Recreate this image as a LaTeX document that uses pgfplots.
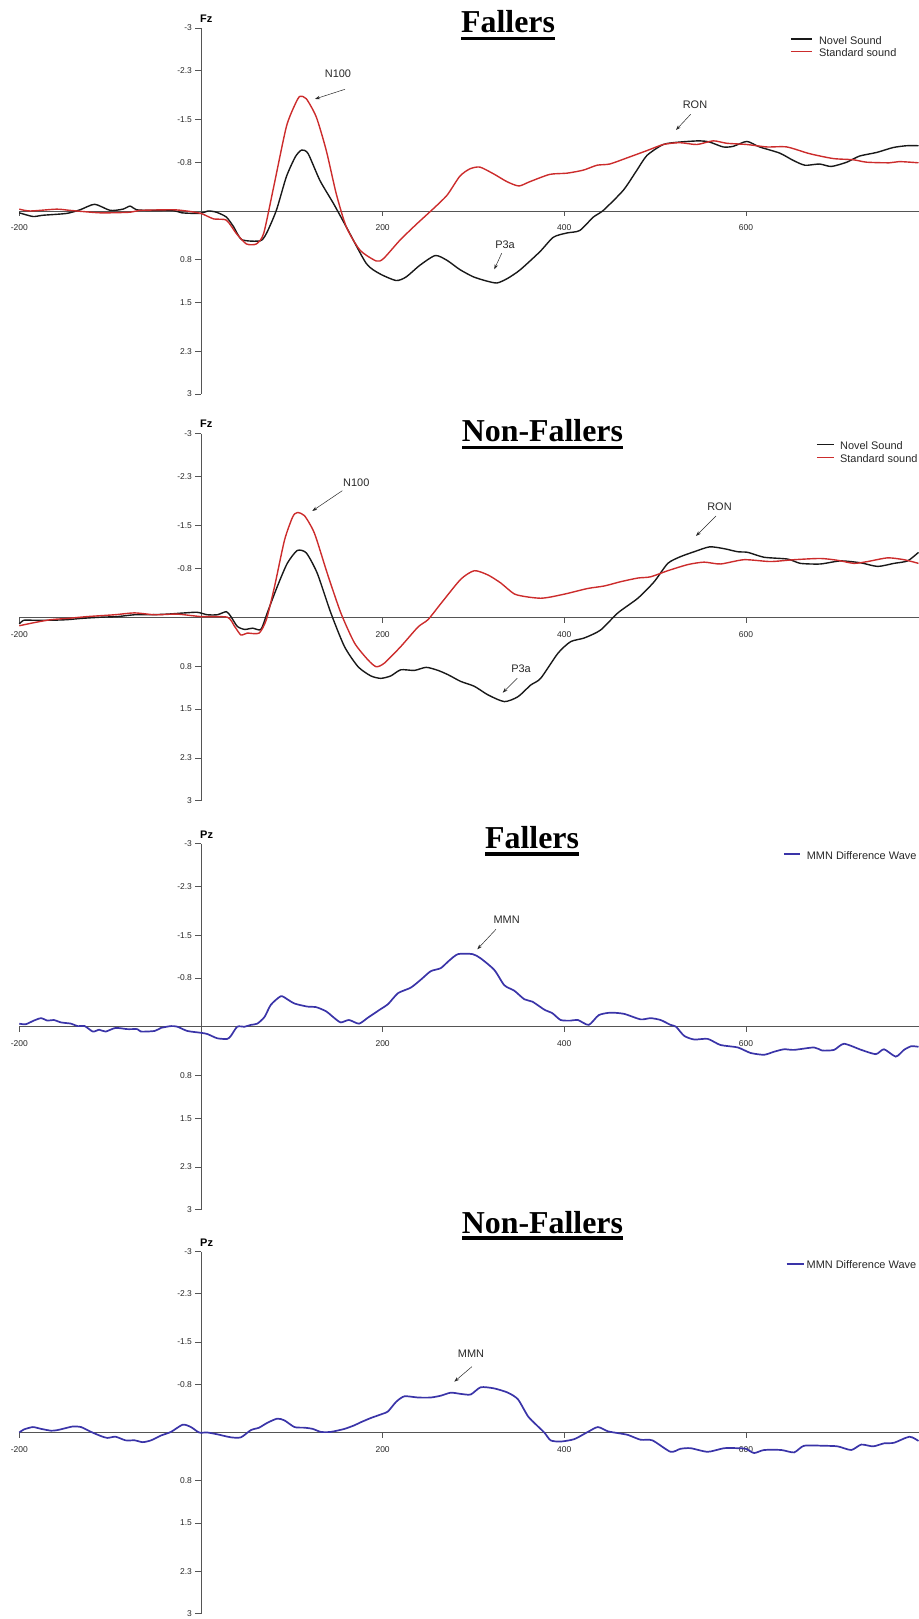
\documentclass[border=0pt]{standalone}
\usepackage{pgfplots}
\pgfplotsset{compat=1.18}
\usepackage{fontspec}
\setmainfont{Liberation Serif}
\newfontfamily\arial{Liberation Sans}
\usetikzlibrary{arrows.meta}

\definecolor{novel}{RGB}{25,25,25}
\definecolor{standard}{RGB}{204,44,44}
\definecolor{mmn}{RGB}{58,52,168}
\definecolor{axisgray}{RGB}{85,85,85}
\definecolor{txtgray}{RGB}{40,40,40}

\pgfplotsset{
  erp/.style={
    scale only axis, width=899.2bp, height=366bp,
    xmin=-200, xmax=790, ymin=-3, ymax=3, y dir=reverse,
    axis lines=middle, axis line style={-, axisgray, line width=0.8bp},
    xtick={-200,200,400,600}, xticklabels={-200,200,400,600},
    ytick={-3,-2.3,-1.5,-0.8,0.8,1.5,2.3,3},
    yticklabels={-3,-2.3,-1.5,-0.8,0.8,1.5,2.3,3},
    tick style={axisgray, line width=0.6bp},
    major tick length=5.5bp,
    tick align=outside,
    xtick style={yshift=-5.5bp},
    ticklabel style={font=\arial\fontsize{8.5}{9}\selectfont, text=txtgray},
    xticklabel style={yshift=-5bp},
    clip=false,
    legend cell align=left,
    legend style={draw=none, fill=none, anchor=north west,
      font=\arial\fontsize{11}{12}\selectfont, text=txtgray,
      inner sep=0pt, row sep=1bp,
      nodes={inner sep=0.4bp, text height=8bp, text depth=2.5bp}},
  },
  wave/.style={smooth, tension=0.4, line width=1.4bp},
}

\begin{document}
\begin{tikzpicture}
\useasboundingbox (0,0) rectangle (919bp,1619bp);

% ---------- Fz, Fallers ----------
\begin{axis}[erp, at={(19.3bp,1225bp)}, anchor=south west,
  legend style={at={(axis description cs:0.857,0.979)}, column sep=6bp},
  legend image code/.code={\draw[#1,line width=1.5bp] (0bp,2.5bp) -- (21bp,2.5bp);}]
\addplot[novel, wave] coordinates {
(-200,0.03) (-185,0.09) (-174,0.07) (-148,0.04) (-133,-0.02) (-117,-0.11) (-100,-0.01) (-86,-0.03) (-78,-0.08) (-71,-0.02) (-56,-0.01) (-31,-0.01) (-21,0.03) (-1,0.04) (8,0) (17,0.02) (28,0.10) (36,0.26) (45,0.47) (65,0.49) (72,0.37) (83,-0.01) (94,-0.56) (104,-0.89) (111,-1.0) (118,-0.94) (131,-0.5) (146,-0.12) (160,0.26) (182,0.86) (197,1.03) (215,1.14) (226,1.08) (241,0.89) (258,0.73) (271,0.81) (285,0.96) (300,1.08) (315,1.15) (326,1.18) (337,1.11) (351,0.97) (373,0.67) (388,0.43) (403,0.36) (417,0.32) (432,0.10) (443,-0.01) (465,-0.34) (480,-0.67) (491,-0.91) (509,-1.09) (527,-1.13) (549,-1.15) (560,-1.13) (575,-1.05) (586,-1.06) (601,-1.14) (615,-1.05) (637,-0.95) (652,-0.83) (665,-0.75) (681,-0.77) (694,-0.73) (711,-0.80) (725,-0.90) (744,-0.96) (762,-1.04) (777,-1.07) (790,-1.07)
};
\addlegendentry{Novel Sound}
\addplot[standard, wave] coordinates {
(-200,-0.03) (-188,0) (-159,-0.03) (-144,-0.01) (-111,0.03) (-78,0.02) (-67,-0.01) (-31,-0.02) (-16,0) (0,0.04) (14,0.13) (28,0.15) (39,0.37) (50,0.54) (61,0.54) (69,0.37) (80,-0.39) (94,-1.38) (104,-1.76) (109,-1.88) (116,-1.84) (127,-1.54) (138,-0.99) (149,-0.28) (160,0.26) (175,0.64) (193,0.82) (201,0.78) (219,0.48) (237,0.22) (256,-0.04) (271,-0.26) (285,-0.57) (296,-0.69) (307,-0.72) (322,-0.61) (337,-0.48) (350,-0.41) (362,-0.48) (384,-0.60) (403,-0.62) (421,-0.67) (436,-0.75) (450,-0.77) (469,-0.87) (491,-0.99) (509,-1.09) (527,-1.12) (546,-1.09) (564,-1.15) (579,-1.11) (601,-1.09) (623,-1.05) (645,-1.05) (670,-0.94) (696,-0.86) (718,-0.84) (733,-0.80) (758,-0.79) (769,-0.81) (790,-0.79)
};
\addlegendentry{Standard sound}
\end{axis}

% ---------- Fz, Non-Fallers ----------
\begin{axis}[erp, height=367bp, at={(19.3bp,818.3bp)}, anchor=south west,
  legend style={at={(axis description cs:0.886,0.979)}, column sep=5bp, row sep=1.7bp},
  legend image code/.code={\draw[#1,line width=1.5bp] (0bp,2.5bp) -- (17bp,2.5bp);}]
\addplot[novel, wave] coordinates {
(-200,0.11) (-195,0.05) (-184,0.05) (-165,0.05) (-147,0.04) (-132,0.02) (-110,0) (-92,-0.01) (-73,-0.04) (-55,-0.04) (-37,-0.05) (-18,-0.07) (-4,-0.08) (7,-0.04) (18,-0.04) (28,-0.09) (33,-0.01) (40,0.15) (48,0.20) (57,0.18) (66,0.20) (73,-0.07) (84,-0.50) (95,-0.88) (106,-1.09) (116,-1.05) (128,-0.72) (143,-0.07) (158,0.48) (173,0.81) (187,0.96) (198,1.0) (209,0.96) (220,0.86) (235,0.87) (248,0.82) (261,0.87) (272,0.94) (286,1.05) (301,1.13) (316,1.27) (334,1.38) (349,1.30) (363,1.11) (374,1.0) (393,0.59) (407,0.40) (422,0.34) (440,0.21) (459,-0.07) (481,-0.31) (499,-0.58) (514,-0.88) (528,-0.99) (543,-1.07) (560,-1.15) (576,-1.12) (591,-1.07) (602,-1.06) (620,-0.98) (646,-0.95) (660,-0.88) (682,-0.87) (704,-0.92) (726,-0.89) (745,-0.83) (763,-0.88) (778,-0.92) (790,-1.06)
};
\addlegendentry{Novel Sound}
\addplot[standard, wave] coordinates {
(-200,0.14) (-184,0.09) (-165,0.04) (-147,0.02) (-125,-0.01) (-95,-0.04) (-73,-0.07) (-51,-0.04) (-26,-0.05) (0,-0.01) (29,0) (37,0.15) (44,0.29) (51,0.26) (64,0.26) (72,0.04) (81,-0.50) (92,-1.26) (101,-1.64) (106,-1.71) (114,-1.66) (125,-1.37) (139,-0.72) (154,-0.07) (169,0.42) (184,0.70) (193,0.81) (202,0.75) (220,0.48) (239,0.16) (250,0.04) (264,-0.22) (286,-0.62) (301,-0.76) (316,-0.69) (330,-0.56) (345,-0.38) (360,-0.33) (374,-0.31) (385,-0.33) (404,-0.39) (426,-0.47) (444,-0.51) (462,-0.58) (481,-0.64) (495,-0.66) (514,-0.76) (536,-0.86) (554,-0.90) (572,-0.87) (598,-0.94) (627,-0.91) (653,-0.94) (682,-0.96) (701,-0.93) (719,-0.88) (734,-0.91) (756,-0.97) (774,-0.94) (790,-0.88)
};
\addlegendentry{Standard sound}
\end{axis}

% ---------- Pz, Fallers ----------
\begin{axis}[erp, at={(19.3bp,409.3bp)}, anchor=south west,
  legend style={at={(axis description cs:0.849,0.981)}, column sep=5.5bp},
  legend image code/.code={\draw[#1,line width=2bp] (0bp,2.5bp) -- (16bp,2.5bp);}]
\addplot[mmn, wave, line width=1.7bp] coordinates {
(-200,-0.05) (-193,-0.04) (-184,-0.10) (-176,-0.14) (-169,-0.10) (-162,-0.11) (-154,-0.07) (-143,-0.05) (-136,-0.01) (-128,-0.01) (-119,0.08) (-112,0.05) (-105,0.08) (-94,0.02) (-81,0.04) (-70,0.04) (-66,0.08) (-51,0.07) (-44,0.02) (-33,-0.01) (-26,0) (-15,0.07) (0,0.10) (7,0.12) (18,0.19) (29,0.20) (33,0.15) (40,0) (48,0) (55,-0.03) (62,-0.05) (70,-0.16) (77,-0.36) (88,-0.50) (95,-0.45) (103,-0.38) (117,-0.33) (127,-0.32) (138,-0.25) (147,-0.14) (154,-0.07) (163,-0.11) (174,-0.05) (184,-0.15) (198,-0.29) (206,-0.37) (217,-0.55) (231,-0.64) (242,-0.77) (253,-0.91) (264,-0.96) (273,-1.08) (283,-1.19) (299,-1.19) (308,-1.12) (323,-0.93) (334,-0.68) (345,-0.59) (356,-0.45) (365,-0.41) (378,-0.28) (387,-0.22) (396,-0.11) (407,-0.10) (415,-0.11) (427,-0.03) (438,-0.19) (451,-0.23) (466,-0.21) (484,-0.12) (495,-0.14) (506,-0.11) (517,-0.03) (523,0) (532,0.15) (543,0.21) (558,0.20) (572,0.30) (591,0.34) (605,0.43) (620,0.46) (631,0.41) (642,0.37) (653,0.38) (675,0.34) (684,0.39) (697,0.38) (708,0.28) (727,0.38) (743,0.45) (752,0.37) (765,0.49) (774,0.38) (782,0.32) (790,0.33)
};
\addlegendentry{MMN Difference Wave}
\end{axis}

% ---------- Pz, Non-Fallers ----------
\begin{axis}[erp, height=362bp, at={(19.3bp,5.5bp)}, anchor=south west,
  legend style={at={(axis description cs:0.852,0.976)}, column sep=1.6bp},
  legend image code/.code={\draw[#1,line width=2bp] (0bp,2.5bp) -- (17bp,2.5bp);}]
\addplot[mmn, wave, line width=1.7bp] coordinates {
(-200,0) (-195,-0.05) (-185,-0.09) (-176,-0.06) (-165,-0.03) (-158,-0.04) (-147,-0.08) (-141,-0.10) (-132,-0.09) (-121,-0.01) (-110,0.06) (-103,0.09) (-94,0.07) (-83,0.13) (-73,0.13) (-64,0.16) (-55,0.13) (-44,0.05) (-33,-0.01) (-20,-0.13) (-11,-0.09) (-2,0) (7,0) (18,0.03) (33,0.08) (44,0.08) (55,-0.04) (64,-0.08) (73,-0.16) (84,-0.23) (92,-0.20) (103,-0.09) (114,-0.08) (123,-0.06) (132,-0.01) (143,-0.01) (158,-0.06) (169,-0.12) (176,-0.17) (187,-0.24) (200,-0.31) (206,-0.35) (215,-0.51) (224,-0.60) (239,-0.58) (253,-0.58) (264,-0.61) (275,-0.66) (286,-0.64) (297,-0.63) (308,-0.75) (323,-0.73) (338,-0.66) (349,-0.55) (360,-0.27) (369,-0.13) (378,0) (385,0.13) (396,0.15) (411,0.11) (426,-0.01) (437,-0.09) (448,-0.02) (459,0.01) (470,0.04) (484,0.12) (497,0.13) (517,0.32) (528,0.27) (539,0.26) (558,0.32) (576,0.26) (591,0.26) (600,0.27) (609,0.34) (620,0.29) (639,0.29) (653,0.33) (664,0.22) (686,0.22) (701,0.23) (716,0.29) (727,0.20) (740,0.23) (752,0.18) (763,0.17) (780,0.07) (790,0.14)
};
\addlegendentry{MMN Difference Wave}
\end{axis}

% ---------- titles, electrode names and component labels ----------
\begin{scope}[x=1bp, y=-1bp, yshift=1619bp,
  lbl/.style={font=\arial\fontsize{11}{12}\selectfont, text=txtgray, inner sep=0pt},
  pnt/.style={draw=txtgray, line width=0.5bp, -{Stealth[length=5bp,width=3.5bp]}},
  elec/.style={font=\arial\bfseries\fontsize{11}{12}\selectfont, anchor=west, inner sep=0pt},
  ttl/.style={font=\bfseries\fontsize{32}{34}\selectfont, anchor=base west, inner sep=0pt}]

\node[ttl] (t1) at (461,32.3) {Fallers};
\fill ([yshift=-4.4bp]t1.base west) rectangle ([yshift=-7.8bp]t1.base east);
\node[ttl] (t2) at (461.7,441.7) {Non-Fallers};
\fill ([yshift=-4bp]t2.base west) rectangle ([yshift=-7.6bp]t2.base east);
\node[ttl] (t3) at (485,849) {Fallers};
\fill ([yshift=-2.8bp]t3.base west) rectangle ([yshift=-6.6bp]t3.base east);
\node[ttl] (t4) at (461.7,1233.3) {Non-Fallers};
\fill ([yshift=-3bp]t4.base west) rectangle ([yshift=-6.8bp]t4.base east);

\node[elec] at (200,18.3) {Fz};
\node[elec] at (200,424) {Fz};
\node[elec] at (200,835) {Pz};
\node[elec] at (200,1242.7) {Pz};

\node[lbl] at (338,73.3) {N100};
\draw[pnt] (345,89.3) -- (315,99);
\node[lbl] at (695,105) {RON};
\draw[pnt] (690.7,114.3) -- (676,130);
\node[lbl] at (505,245) {P3a};
\draw[pnt] (501.7,253.3) -- (494.3,269.3);

\node[lbl] at (356.3,482.7) {N100};
\draw[pnt] (342.3,490.7) -- (312.3,511);
\node[lbl] at (719.5,506.7) {RON};
\draw[pnt] (716,516) -- (696,536);
\node[lbl] at (521,668.3) {P3a};
\draw[pnt] (517.3,678.3) -- (502.7,692.7);

\node[lbl] at (506.7,919.3) {MMN};
\draw[pnt] (496,929.3) -- (477.3,949.3);

\node[lbl] at (471,1354) {MMN};
\draw[pnt] (471.9,1366.7) -- (454.3,1381.7);
\end{scope}
\end{tikzpicture}
\end{document}
